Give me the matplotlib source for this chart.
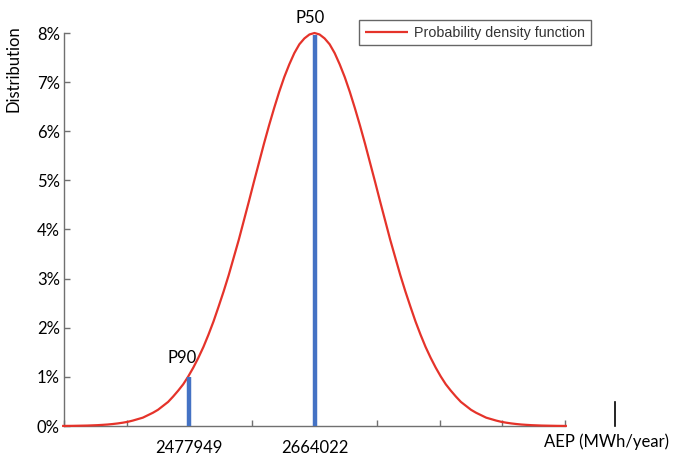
import matplotlib
matplotlib.use("Agg")
import matplotlib.pyplot as plt

# ---- data ----
aep_mean = 2664022
aep_step = 7500
# distribution (%), from the mean outwards (step aep_step)
pdf_half = [8.00, 7.97, 7.89, 7.77, 7.59, 7.36, 7.10, 6.80, 6.47, 6.12,
            5.75, 5.36, 4.97, 4.57, 4.18, 3.79, 3.43, 3.07, 2.74, 2.43,
            2.13, 1.86, 1.61, 1.39, 1.19, 1.01, 0.85, 0.72, 0.60, 0.49,
            0.41, 0.33, 0.27, 0.22, 0.17, 0.14, 0.11, 0.085, 0.067, 0.052,
            0.040, 0.030, 0.023, 0.017, 0.013, 0.009, 0.007, 0.005, 0.003, 0.002,
            0.001]
pdf_values = pdf_half[:0:-1] + pdf_half
n_side = len(pdf_half) - 1
aep_values = [aep_mean + (i - n_side) * aep_step for i in range(len(pdf_values))]

p_labels = ["P90", "P50"]
p_aep = [2477949, 2664022]
p_pdf = [1.0, 7.95]

x_ticks = [2291876, 2384913, 2477949, 2570986, 2664022, 2757059, 2850095, 2943132, 3036168]
x_ticklabels = ["", "", "2477949", "", "2664022", "", "", "", ""]
y_ticks = [0, 1, 2, 3, 4, 5, 6, 7, 8]
y_ticklabels = [f"{v}%" for v in y_ticks]

legend_label = "Probability density function"
x_label = "AEP (MWh/year)"
y_label = "Distribution"

# ---- figure ----
plt.rcParams['font.family'] = ['Lato', 'DejaVu Sans']
fig = plt.figure(figsize=(6.8, 4.69), dpi=100)
ax = fig.add_axes([64/680, 1-426/469, (565-64)/680, (426-33)/469])

ax.plot(aep_values, pdf_values, color='#E5332A', lw=1.6, label=legend_label,
        solid_capstyle='butt', clip_on=False, zorder=3)
ax.vlines(p_aep, 0, p_pdf, color='#4472C4', lw=3.2, zorder=4)

for lab, xv, yv in zip(p_labels, p_aep, p_pdf):
    ax.annotate(lab, (xv, yv), xytext=(-5, 8) if lab == "P90" else (-3, 7),
                textcoords='offset points', ha='center', va='bottom', fontsize=12)

ax.set_xlim(x_ticks[0], x_ticks[-1])
ax.set_ylim(0, 8)
ax.set_xticks(x_ticks)
ax.set_xticklabels(x_ticklabels)
ax.set_yticks(y_ticks)
ax.set_yticklabels(y_ticklabels)

for s in ['top', 'right']:
    ax.spines[s].set_visible(False)
for s in ['left', 'bottom']:
    ax.spines[s].set_color('#707070')
    ax.spines[s].set_linewidth(1.0)
ax.tick_params(axis='both', direction='in', length=4, width=1, color='#707070',
               labelsize=12, labelcolor='black')
ax.tick_params(axis='x', pad=10)
ax.tick_params(axis='y', pad=3)

fig.text(14/680, 1-69/469, y_label, rotation=90, ha='center', va='center', fontsize=12)
fig.text(606/680, 1-442/469, x_label, ha='center', va='center', fontsize=12)
fig.add_artist(plt.Line2D([615/680, 615/680], [1-426/469, 1-402/469],
                          color='black', lw=1.2, transform=fig.transFigure))

leg = ax.legend(loc='upper left', bbox_to_anchor=(359/680, 1-20/469),
                bbox_transform=fig.transFigure, frameon=True, fancybox=False,
                prop={'family': 'Liberation Sans', 'size': 10.3}, handlelength=3.0,
                handletextpad=0.45, borderpad=0.4, borderaxespad=0)
leg.get_frame().set_edgecolor('#404040')
leg.get_frame().set_linewidth(1.0)
for t in leg.get_texts():
    t.set_color('#333333')

fig.savefig('out.png', dpi=100)
